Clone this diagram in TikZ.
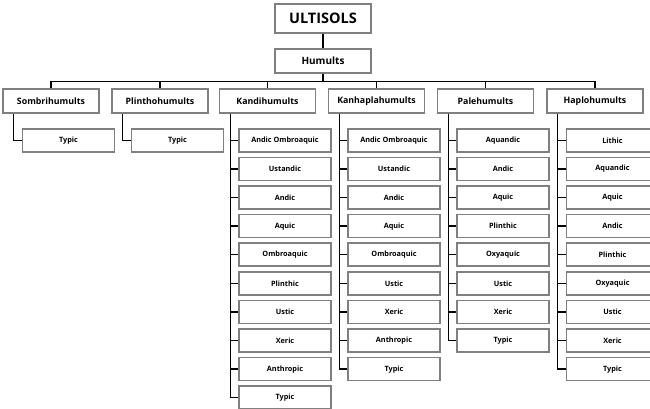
\documentclass[tikz,border=0pt]{standalone}
\usepackage{fontspec}
\setmainfont{Open Sans}
\usetikzlibrary{positioning}
\definecolor{BoxClr}{rgb}{0.5,0.5,0.5}

\begin{document}
\begin{tikzpicture}[x=1pt,y=-1pt,
  box/.style={draw=BoxClr,line width=1.6pt,fill=white,inner sep=0pt},
  topbox/.style={box,minimum width=96pt,minimum height=24pt,font=\bfseries\fontsize{8.8}{10}\selectfont},
  subbox/.style={box,minimum width=92pt,minimum height=23pt,font=\bfseries\fontsize{7.3}{8}\selectfont},
  link/.style={line width=1.3pt,black}]
\useasboundingbox (0,0) rectangle (650,408);

\node[topbox,minimum height=29pt,font=\bfseries\fontsize{14.5}{16}\selectfont] (ult) at (323,18.5) {ULTISOLS};
\node[topbox,font=\bfseries\fontsize{10}{12}\selectfont] (hum) at (323,61) {Humults};
\draw[link] (ult) -- (hum);

% suborders and the bus line
\foreach \name/\xc/\txt in {sombri/51/Sombrihumults,plintho/160/Plinthohumults,
  kandi/267.5/Kandihumults,kanhapla/376.5/Kanhaplahumults,
  pale/485.5/Palehumults,haplo/595/Haplohumults}{
  \node[topbox] (\name) at (\xc,101) {\txt};
  \draw[link] (hum.south) -- ++(0,8) -| (\name.north);
}

% subgroups
\foreach \name/\items in {sombri/{Typic},plintho/{Typic},
  kandi/{Andic Ombroaquic,Ustandic,Andic,Aquic,Ombroaquic,Plinthic,Ustic,Xeric,Anthropic,Typic},
  kanhapla/{Andic Ombroaquic,Ustandic,Andic,Aquic,Ombroaquic,Ustic,Xeric,Anthropic,Typic},
  pale/{Aquandic,Andic,Aquic,Plinthic,Oxyaquic,Ustic,Xeric,Typic},
  haplo/{Lithic,Aquandic,Aquic,Andic,Plinthic,Oxyaquic,Ustic,Xeric,Typic}}{
  \foreach \txt [count=\i] in \items {
    \node[subbox,anchor=west] (\name-\i) at ([xshift=19.5pt,yshift={-26.5pt-28.6pt*(\i-1)}]\name.south west) {\txt};
    \draw[link] ([xshift=11.5pt]\name.south west) |- (\name-\i.west);
  }
}

\end{tikzpicture}
\end{document}
